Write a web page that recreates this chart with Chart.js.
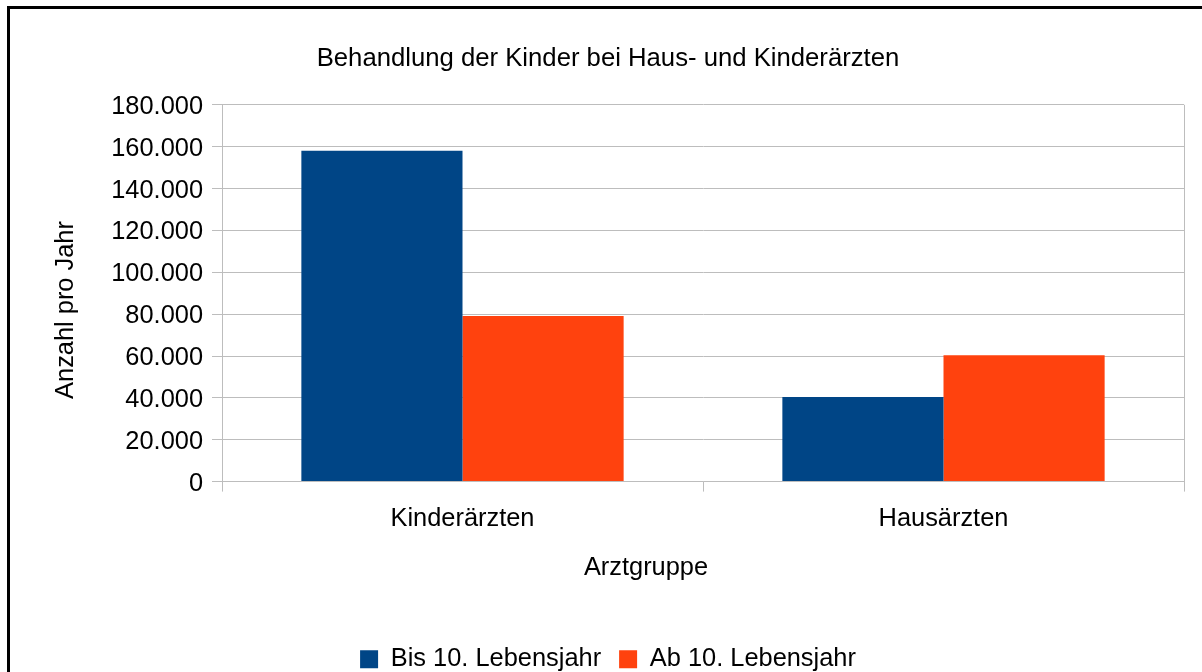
<!DOCTYPE html>
<html><head><meta charset="utf-8">
<script src="https://cdn.jsdelivr.net/npm/chart.js@4.4.1/dist/chart.umd.min.js"></script>
<style>
html,body{margin:0;padding:0;background:#fff;overflow:hidden;}
#wrap{position:relative;width:1202px;height:672px;overflow:hidden;background:#fff;}
#frame{position:absolute;left:7px;top:6px;width:1300px;height:800px;border-left:3px solid #000;border-top:3px solid #000;pointer-events:none;}
canvas{position:absolute;left:0;top:0;}
</style></head><body>
<div id="wrap"><canvas id="c" width="1202" height="682"></canvas><div id="frame"></div></div>
<script>
const chartTitle = 'Behandlung der Kinder bei Haus- und Kinderärzten';
const categories = ['Kinderärzten', 'Hausärzten'];
const seriesNames = ['Bis 10. Lebensjahr', 'Ab 10. Lebensjahr'];
const bis10 = [158100, 40400];
const ab10 = [79100, 60400];
const yAxisTitle = 'Anzahl pro Jahr';
const xAxisTitle = 'Arztgruppe';
const yMin = 0, yMax = 180000, yStep = 20000;

const FONT = "'Liberation Sans', Arial, sans-serif";
const FS = 25.4;
const gridCol = '#bdbdbd';
Chart.defaults.font.family = FONT;
Chart.defaults.font.size = FS;
Chart.defaults.color = '#000';

function fmt(v) { return String(v).replace(/\B(?=(\d{3})+(?!\d))/g, '.'); }

const axisTitles = {
  id: 'axisTitles',
  afterDraw(chart) {
    const ctx = chart.ctx;
    ctx.save();
    ctx.font = FS + 'px ' + FONT;
    ctx.fillStyle = '#000';
    ctx.textAlign = 'center';
    ctx.textBaseline = 'alphabetic';
    ctx.fillText(xAxisTitle, 646, 575);
    ctx.translate(73, 310);
    ctx.rotate(-Math.PI / 2);
    ctx.fillText(yAxisTitle, 0, 0);
    ctx.restore();
  }
};

new Chart(document.getElementById('c'), {
  type: 'bar',
  data: {
    labels: categories,
    datasets: [
      { label: seriesNames[0], data: bis10, backgroundColor: '#004586', borderWidth: 0 },
      { label: seriesNames[1], data: ab10, backgroundColor: '#ff420e', borderWidth: 0 }
    ]
  },
  options: {
    responsive: false,
    animation: false,
    datasets: { bar: { barPercentage: 1, categoryPercentage: 0.67 } },
    layout: { padding: { left: 32, right: 18, top: 0, bottom: 0 } },
    plugins: {
      tooltip: { enabled: false },
      title: { display: true, text: chartTitle, color: '#000', font: { size: 25.7, weight: 'normal' }, padding: { top: 43, bottom: 31 } },
      legend: { position: 'bottom', labels: { boxWidth: 18, boxHeight: 18, padding: 18, color: '#000', font: { size: FS } } }
    },
    scales: {
      x: {
        ticks: { color: '#000', font: { size: FS }, padding: 12 },
        grid: { offset: true, color: c => (c.type === 'tick' ? 'rgba(0,0,0,0)' : gridCol), tickColor: gridCol, tickLength: 10, lineWidth: 1 },
        border: { color: gridCol },
        afterFit: s => { s.height = 147; }
      },
      y: {
        min: yMin, max: yMax,
        ticks: { stepSize: yStep, color: '#000', font: { size: FS }, padding: 9, labelOffset: 2, callback: v => fmt(v) },
        grid: { color: gridCol, tickLength: 10, lineWidth: 1 },
        border: { color: gridCol },
        afterFit: s => { s.width = 190; }
      }
    }
  },
  plugins: [axisTitles]
});
</script>
</body></html>
